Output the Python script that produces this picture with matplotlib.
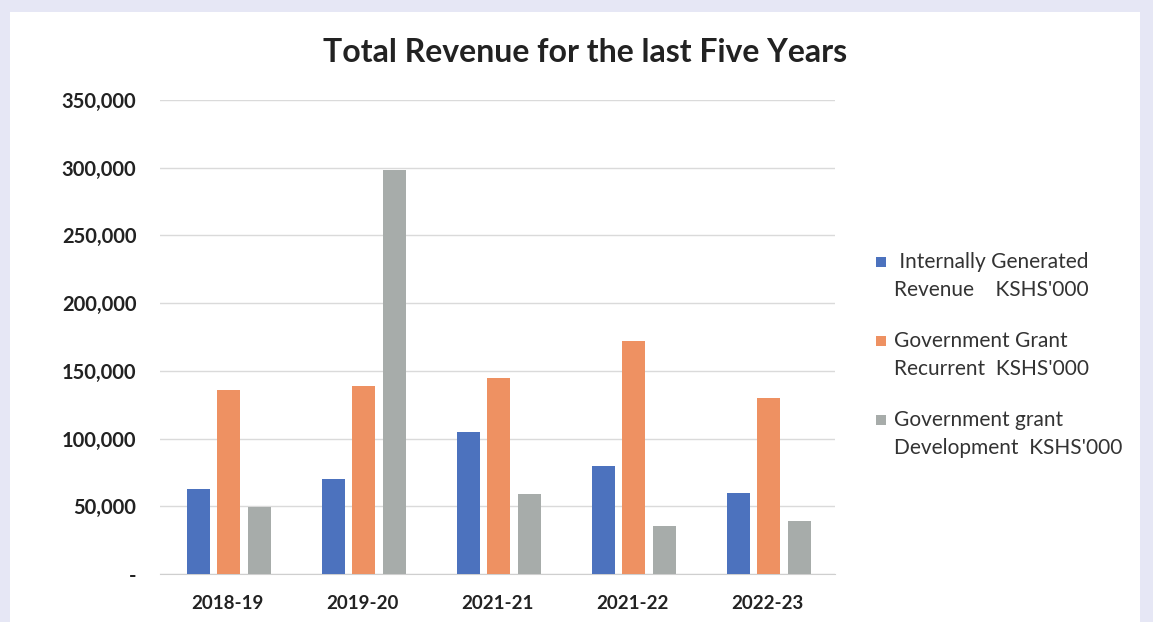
import numpy as np
import matplotlib.pyplot as plt
from matplotlib.patches import Rectangle
from matplotlib.ticker import FuncFormatter

plt.rcParams["font.family"] = ["Lato", "DejaVu Sans"]

# Data (KSHS '000)
years = ["2018-19", "2019-20", "2021-21", "2021-22", "2022-23"]
internal = [62900, 69800, 104700, 79600, 59700]
recurrent = [136000, 139000, 144900, 171700, 130100]
development = [49300, 298500, 58900, 35300, 38800]

series_labels = [
    [" Internally Generated", "Revenue    KSHS'000"],
    ["Government Grant", "Recurrent  KSHS'000"],
    ["Government grant", "Development  KSHS'000"],
]
colors = ["#4C72BE", "#EE9162", "#A7ACAA"]

W, H = 1153, 622
fig = plt.figure(figsize=(W / 100, H / 100), dpi=100)
fig.patch.set_facecolor("#E6E7F5")
# white panel like the scanned chart area
fig.patches.append(Rectangle((10 / W, 0), 1130 / W, 1 - 12 / H,
                             transform=fig.transFigure, facecolor="white",
                             edgecolor="none", zorder=-10))

ax = fig.add_axes([160 / W, 1 - 574 / H, 675 / W, 474 / H])
ax.set_facecolor("none")
ax.set_zorder(5)

x = np.arange(len(years))
width = 0.17
step = 0.226
for i, (vals, c) in enumerate(zip([internal, recurrent, development], colors)):
    ax.bar(x + (i - 1) * step + 0.01, vals, width, color=c, zorder=3)

ax.set_xlim(-0.5, len(years) - 0.5)
ax.set_ylim(0, 350000)
ax.set_yticks(np.arange(0, 350001, 50000))
ax.yaxis.set_major_formatter(FuncFormatter(lambda v, p: "-" if v == 0 else f"{int(v):,}"))
ax.set_xticks(x)
ax.set_xticklabels(years)
ax.tick_params(length=0, labelsize=13.5, colors="#222222")
ax.tick_params(axis="y", labelsize=14.5, pad=17)
ax.tick_params(axis="x", pad=15)
for lbl in ax.get_xticklabels() + ax.get_yticklabels():
    lbl.set_fontweight("bold")

ax.grid(axis="y", color="#DADADA", linewidth=1, zorder=0)
for s in ["top", "right", "left"]:
    ax.spines[s].set_visible(False)
ax.spines["bottom"].set_color("#CFCFCF")

fig.text(585 / W, 1 - 52 / H, "Total Revenue for the last Five Years",
         ha="center", va="center", fontsize=23, fontweight="bold", color="#222222")

# legend on the right: square marker beside the first line of each two-line label
for i, (lines, c) in enumerate(zip(series_labels, colors)):
    y0 = 262 + i * 79
    fig.patches.append(Rectangle((876 / W, 1 - (y0 + 5) / H), 10 / W, 10 / H,
                                 transform=fig.transFigure, facecolor=c,
                                 edgecolor="none"))
    for j, line in enumerate(lines):
        fig.text(894 / W, 1 - (y0 + j * 28) / H, line, ha="left", va="center",
                 fontsize=15, color="#333333")

fig.savefig("out.png", dpi=100)
